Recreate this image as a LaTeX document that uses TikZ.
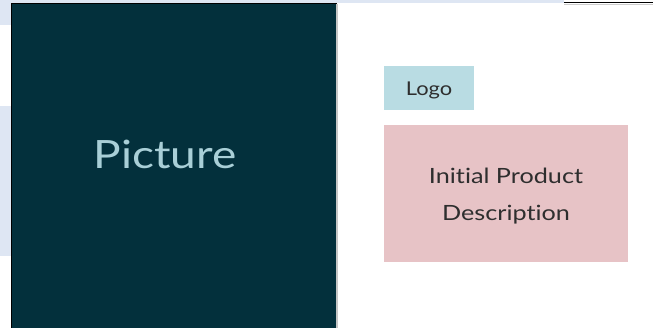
\documentclass[tikz,border=0pt]{standalone}
\usepackage{graphicx}
\usepackage{fontspec}
\setmainfont{Lato}[Ligatures=NoCommon]
\definecolor{darkteal}{HTML}{03303C}
\definecolor{bgblue}{HTML}{DEE6F3}
\definecolor{logoblue}{HTML}{B9DCE3}
\definecolor{pinkbox}{HTML}{E7C3C6}
\definecolor{pictext}{HTML}{A9CFD7}
\definecolor{boxtext}{HTML}{2E2E2E}
\tikzset{
  panel/.style={fill=darkteal, draw=black, line width=0.8pt},
  logobox/.style={fill=logoblue, draw=none, minimum width=90pt, minimum height=44pt, inner sep=0pt},
  descbox/.style={fill=pinkbox, draw=none, minimum width=244pt, minimum height=137pt, inner sep=0pt},
  boxlabel/.style={text=boxtext, inner sep=0pt, align=center},
  piclabel/.style={text=pictext, font=\fontsize{39}{39}\selectfont, inner sep=0pt}
}
\begin{document}
\begin{tikzpicture}[x=1pt,y=-1pt]
\useasboundingbox (0,0) rectangle (653,328);
\fill[white] (0,0) rectangle (653,328);
\fill[bgblue] (0,0) rectangle (564,3);
\fill[bgblue] (0,0) rectangle (11,25);
\fill[bgblue] (0,106) rectangle (11,256);
\draw[black, line width=1pt] (564,3) -- (653,3);
\draw[gray!40, line width=0.6pt] (564,4.5) -- (653,4.5);
\draw[panel] (11.4,3) rectangle (336,329);
\draw[gray!45!white, line width=1.6pt] (337,4) -- (337,328);
\node[piclabel, anchor=base] (pic) at (165,169) {\scalebox{1.18}[1]{Picture}};
\node[logobox] (logo) at (429,88) {};
\node[boxlabel, anchor=base, font=\fontsize{19}{19}\selectfont] (logotext) at (429,96) {\scalebox{1.15}[1]{Logo}};
\node[descbox] (desc) at (506,193.5) {};
\node[boxlabel, anchor=base, font=\fontsize{21}{21}\selectfont] (desc1) at (506,183.5) {\scalebox{1.2}[1]{Initial Product}};
\node[boxlabel, anchor=base, font=\fontsize{21}{21}\selectfont] (desc2) at (506,220.5) {\scalebox{1.2}[1]{Description}};
\end{tikzpicture}
\end{document}
